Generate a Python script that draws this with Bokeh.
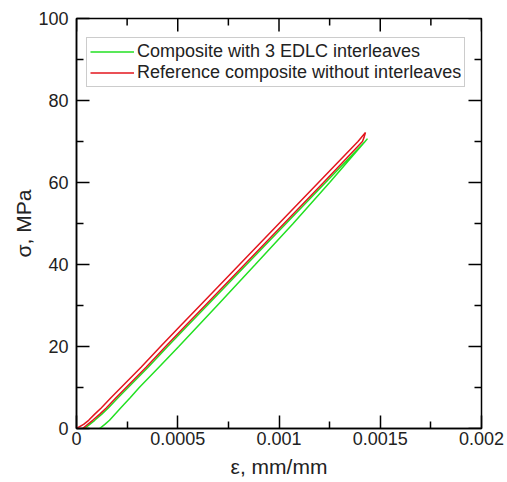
from bokeh.plotting import figure
from bokeh.models import Range1d, FixedTicker, Legend, LegendItem
from bokeh.embed import file_html
from bokeh.resources import INLINE

# --- data ---
x_ticks = [0, 0.0005, 0.001, 0.0015, 0.002]
x_tick_labels = ["0", "0.0005", "0.001", "0.0015", "0.002"]
x_minor = [0.00025, 0.00075, 0.00125, 0.00175]
y_ticks = [0, 20, 40, 60, 80, 100]
y_tick_labels = ["0", "20", "40", "60", "80", "100"]
y_minor = [10, 30, 50, 70, 90]

# Reference composite without interleaves (loading then unloading)
ref_strain = [0, 0.000035, 0.00006, 0.00009, 0.000122, 0.00017, 0.00022, 0.00032,
              0.000415, 0.000512, 0.00061, 0.000805, 0.001, 0.001195, 0.00139, 0.001427,
              0.00142, 0.001412, 0.00122, 0.001025, 0.00083, 0.000635, 0.000537,
              0.00044, 0.000345, 0.000245, 0.000195, 0.000147, 0.000115, 0.00008,
              0.00003]
ref_stress = [0, 1, 2, 3.5, 5, 7.5, 10, 15, 20, 25, 30, 40, 50, 60, 70, 72.2,
              71, 70, 60, 50, 40, 30, 25, 20, 15, 10, 7.5, 5, 3.5, 2, 0]

# Composite with 3 EDLC interleaves (lower branch up, upper branch down)
edlc_strain = [0.000114, 0.00014, 0.000163, 0.00019, 0.000218, 0.000265, 0.00031,
               0.000408, 0.000505, 0.0006, 0.000695, 0.000883, 0.00107, 0.00125,
               0.001425, 0.001437,
               0.001425, 0.00123, 0.001035, 0.00084, 0.000645, 0.000547, 0.00045,
               0.000355, 0.000255, 0.000205, 0.000157, 0.000125, 0.00009, 0.00004]
edlc_stress = [0, 1, 2, 3.5, 5, 7.5, 10, 15, 20, 25, 30, 40, 50, 60, 70, 70.7,
               70, 60, 50, 40, 30, 25, 20, 15, 10, 7.5, 5, 3.5, 2, 0]

FONT = "Liberation Sans"
X0, X1, Y0, Y1 = 0, 0.002, 0, 100
FW, FH = 405, 410
MAJ, MIN = 13, 7  # tick lengths in px

p = figure(frame_width=FW, frame_height=FH, output_backend="svg",
           toolbar_location=None,
           x_range=Range1d(X0, X1), y_range=Range1d(Y0, Y1),
           min_border_left=76, min_border_right=26, min_border_top=18,
           min_border_bottom=54)
p.background_fill_color = "white"
p.border_fill_color = "white"
p.outline_line_color = "black"
p.outline_line_width = 1.5
p.xgrid.visible = False
p.ygrid.visible = False

g = p.line(edlc_strain, edlc_stress, line_color="#22e022", line_width=1.5)
r = p.line(ref_strain, ref_stress, line_color="#e3161e", line_width=1.5)

# ticks on the top and right frame edges, at the tick positions
dx = (X1 - X0) / FW
dy = (Y1 - Y0) / FH
top_x = x_ticks + x_minor
top_len = [MAJ * dy] * len(x_ticks) + [MIN * dy] * len(x_minor)
p.segment(x0=top_x, y0=[Y1] * len(top_x), x1=top_x,
          y1=[Y1 - L for L in top_len], line_color="black", line_width=1.5)
right_y = y_ticks + y_minor
right_len = [MAJ * dx] * len(y_ticks) + [MIN * dx] * len(y_minor)
p.segment(x0=[X1] * len(right_y), y0=right_y, x1=[X1 - L for L in right_len],
          y1=right_y, line_color="black", line_width=1.5)

def style(ax):
    ax.axis_line_color = "black"
    ax.axis_line_width = 1.5
    ax.major_tick_in = MAJ
    ax.major_tick_out = 0
    ax.minor_tick_in = MIN
    ax.minor_tick_out = 0
    ax.major_tick_line_width = 1.5
    ax.minor_tick_line_width = 1.5
    ax.major_tick_line_color = "black"
    ax.minor_tick_line_color = "black"
    ax.major_label_text_font = FONT
    ax.major_label_text_font_size = "18px"
    ax.major_label_text_color = "#222222"
    ax.axis_label_text_font = FONT
    ax.axis_label_text_font_size = "21px"
    ax.axis_label_text_font_style = "normal"
    ax.axis_label_text_color = "#222222"

p.xaxis.ticker = FixedTicker(ticks=x_ticks, minor_ticks=x_minor)
p.yaxis.ticker = FixedTicker(ticks=y_ticks, minor_ticks=y_minor)
p.xaxis.major_label_overrides = dict(zip(x_ticks, x_tick_labels))
p.yaxis.major_label_overrides = dict(zip(y_ticks, y_tick_labels))
p.xaxis.axis_label = "ε, mm/mm"
p.yaxis.axis_label = "σ, MPa"
style(p.xaxis[0])
style(p.yaxis[0])
p.xaxis.major_label_standoff = 3
p.yaxis.major_label_standoff = 8
p.xaxis.axis_label_standoff = 7
p.yaxis.axis_label_standoff = 0

legend = Legend(items=[LegendItem(label="Composite with 3 EDLC interleaves", renderers=[g]),
                       LegendItem(label="Reference composite without interleaves", renderers=[r])],
                location=(10, 341))
legend.label_text_font = FONT
legend.label_text_font_size = "18px"
legend.label_text_color = "#222222"
legend.glyph_width = 44
legend.glyph_height = 21
legend.label_height = 21
legend.label_standoff = 3
legend.padding = 3
legend.spacing = 0
legend.margin = 0
legend.border_line_color = "#999999"
legend.border_line_width = 1
legend.background_fill_alpha = 1
p.add_layout(legend, "center")

open("out.html", "w").write(file_html(p, INLINE))
